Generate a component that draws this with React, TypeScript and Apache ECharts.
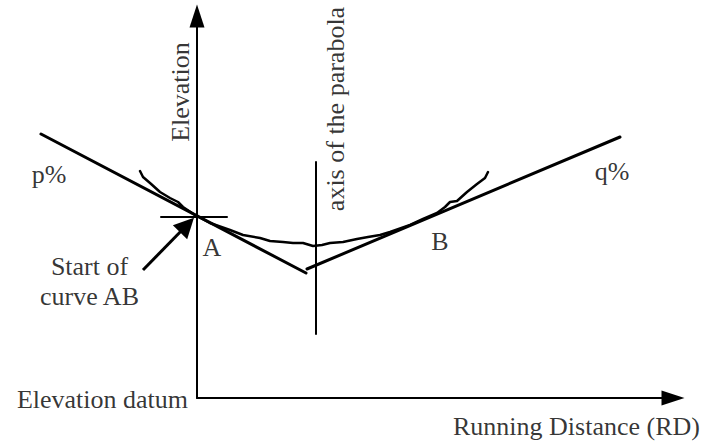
import React, { useEffect, useRef } from "react";
import * as echarts from "echarts";

// Data units: x = running distance from the elevation axis, y = elevation above datum
const X_MAX = 476;
const Y_MAX = 382;

// Grade line p% (falling) and q% (rising)
const gradeP: number[][] = [[-156, 264], [109, 125]];
const gradeQ: number[][] = [[110, 129], [423, 261]];

// Vertical curve AB (hand-drawn, wavy)
const curveX = [-57, -54, -47, -37, -27, -19, -14, -2, 13, 33, 46, 63, 73, 86, 96, 106, 116, 125, 133, 146, 160, 171, 183, 193, 213, 226, 240, 248, 253, 260, 270, 280, 288, 291];
const curveY = [227, 221, 215, 206, 200, 196, 191, 183, 175, 168, 163, 160, 157, 156, 155, 155, 152, 153, 155, 156, 159, 161, 163, 166, 173, 179, 185, 191, 196, 197, 206, 214, 220, 226];

// Tick mark through A
const tickA: number[][] = [[-36, 181], [30, 181]];
// Axis of the parabola
const parabolaAxis: number[][] = [[119, 236], [119, 64]];
// Pointer "Start of curve AB"
const pointer: number[][] = [[-54, 128], [-10, 173]];

// Annotations
const labelTexts = ["Elevation", "axis of the parabola", "p%", "q%", "A", "B", "Start of\ncurve AB", "Elevation datum", "Running Distance (RD)"];
const labelX = [-17, 138, -148, 415, 15, 243, -107.5, -9, 503];
const labelY = [306, 289, 223.5, 227, 151, 157, 117, -1, -28];
const labelRotate = [90, 90, 0, 0, 0, 0, 0, 0, 0];
const labelAlign = ["center", "center", "center", "center", "center", "center", "center", "right", "right"];

const FONT = "Liberation Serif";

export default function App() {
  const ref = useRef<HTMLDivElement>(null);

  useEffect(() => {
    document.body.style.margin = "0";
    if (!ref.current) return;
    const chart = echarts.init(ref.current, undefined, { renderer: "svg" });

    const black = "#000";
    const polySeries = (name: string, coords: number[][], width: number) => ({
      name,
      type: "lines",
      coordinateSystem: "cartesian2d",
      polyline: true,
      clip: false,
      silent: true,
      symbol: ["none", "none"],
      lineStyle: { color: black, width, opacity: 1, cap: "round", join: "round" },
      data: [{ coords }],
      z: 3,
    });

    const curveData = curveX.map((x, i) => [x, curveY[i]]);

    chart.setOption({
      animation: false,
      backgroundColor: "#fff",
      grid: { left: 197, right: 703 - 197 - X_MAX, top: 398 - Y_MAX, bottom: 43, containLabel: false },
      xAxis: {
        type: "value",
        min: 0,
        max: X_MAX,
        axisLine: {
          show: true,
          onZero: false,
          symbol: ["none", "triangle"],
          symbolSize: [15, 23],
          lineStyle: { color: black, width: 2 },
        },
        axisTick: { show: false },
        axisLabel: { show: false },
        splitLine: { show: false },
      },
      yAxis: {
        type: "value",
        min: 0,
        max: Y_MAX,
        axisLine: {
          show: true,
          onZero: false,
          symbol: ["none", "triangle"],
          symbolSize: [15, 23],
          lineStyle: { color: black, width: 2 },
        },
        axisTick: { show: false },
        axisLabel: { show: false },
        splitLine: { show: false },
      },
      series: [
        polySeries("p", gradeP, 3),
        polySeries("q", gradeQ, 3),
        polySeries("curve", curveData, 2.5),
        polySeries("tickA", tickA, 2),
        polySeries("axis", parabolaAxis, 2),
        {
          type: "lines",
          coordinateSystem: "cartesian2d",
          clip: false,
          silent: true,
          symbol: ["none", "triangle"],
          symbolSize: [14, 20],
          lineStyle: { color: black, width: 3, opacity: 1 },
          data: [{ coords: pointer }],
          z: 4,
        },
        {
          type: "scatter",
          clip: false,
          silent: true,
          symbolSize: 0,
          data: labelTexts.map((t, i) => ({
            value: [labelX[i], labelY[i]],
            name: t,
            label: { rotate: labelRotate[i], align: labelAlign[i] },
          })),
          label: {
            show: true,
            position: "inside",
            formatter: (p: any) => p.name,
            color: black,
            fontFamily: FONT,
            fontSize: 26,
            lineHeight: 30,
          },
          z: 5,
        },
      ],
    });

    return () => chart.dispose();
  }, []);

  return <div ref={ref} style={{ width: 703, height: 441 }} />;
}
